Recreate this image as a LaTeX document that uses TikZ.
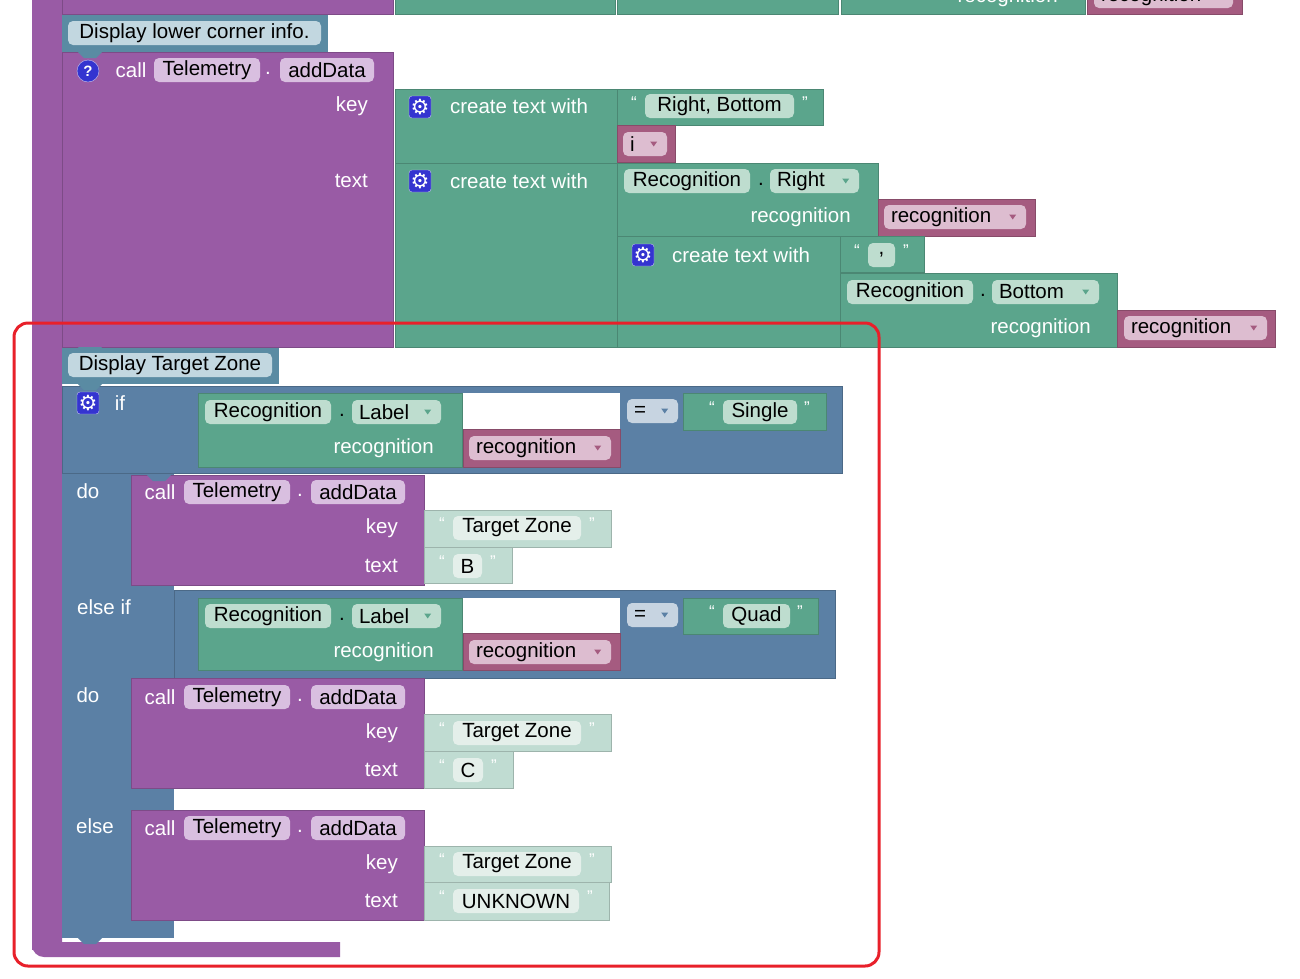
\documentclass[tikz,border=0pt]{standalone}
\usepackage{fontspec}
\setmainfont{Liberation Sans}
\newfontfamily\djvfont{DejaVu Sans}
\definecolor{pur}{HTML}{995BA5}
\definecolor{grn}{HTML}{5BA58C}
\definecolor{blu}{HTML}{5B80A5}
\definecolor{pnk}{HTML}{A55B80}
\definecolor{lgt}{HTML}{C0DCD2}
\definecolor{hdr}{HTML}{5A8BA3}
\definecolor{ppill}{HTML}{D9BFE0}
\definecolor{gpill}{HTML}{BEDDCF}
\definecolor{kpill}{HTML}{DDBDD0}
\definecolor{bpill}{HTML}{C7D4E1}
\definecolor{hpill}{HTML}{C2D7E0}
\definecolor{lpill}{HTML}{E4EFEA}
\definecolor{redb}{HTML}{E8202A}
\definecolor{icon}{HTML}{3434D0}
\tikzset{
  fnt/.style={font=\fontsize{20.5}{23}\selectfont},
  wl/.style={fnt,text=white,inner sep=0pt},
  bl/.style={fnt,text=black,inner sep=0pt},
  pillbox/.style={rounded corners=5pt,inner sep=0pt,minimum height=24pt},
  qt/.style={font=\fontsize{17}{17}\selectfont,text=white,inner sep=0pt},
}
\newcommand\blk[5]{\filldraw[fill=#1,draw=#1!82!black,line width=0.8pt] (#2,#3) rectangle (#4,#5);}
\newcommand\pill[6]{\node[pillbox,fill=#2,minimum width={#4-#3}] (#1) at ({(#3+#4)/2},#5) {};
  \node[bl] at (#1.center) {#6};}
\newcommand\dpill[7]{\node[pillbox,fill=#2,minimum width={#4-#3}] (#1) at ({(#3+#4)/2},#5) {};
  \node[bl,anchor=west] at ([xshift=7pt]#1.west) {#6};
  \fill[#7] ([xshift=-17pt,yshift=2.5pt]#1.east) -- ++(7,0) -- ++(-3.5,5) -- cycle;}
\newcommand\gear[3]{\node[fill=icon,draw=white!70!icon,rounded corners=3pt,minimum size=22pt,inner sep=0pt,text=white,font=\djvfont\fontsize{21}{21}\selectfont] (#1) at (#2,#3) {⚙};}
\begin{document}
\begin{tikzpicture}[x=1pt,y=-1pt]
\useasboundingbox (0,0) rectangle (1300,978);
\clip (0,0) rectangle (1300,978);
% ===== outer purple C block
\fill[pur] (32,-20) -- (62,-20) -- (62,942) -- (340,942) -- (340,957) -- (44,957) [rounded corners=12pt] -- (32,957) -- (32,-20) -- cycle;
\fill[pur] (32,-20) rectangle (62,950);
% ===== top strip (cut off blocks)
\blk{pur}{62}{-30}{393}{14}
\blk{grn}{395}{-30}{615}{14}
\blk{grn}{617}{-30}{838}{14}
\blk{grn}{841}{-30}{1085}{14}
\node[wl,anchor=east] (rtop) at (1058,-3) {recognition};
\blk{pnk}{1087}{-30}{1242}{14}
\dpill{rtopv}{kpill}{1094}{1233}{-4}{recognition}{pnk}
% ===== Display lower corner info.
\fill[hdr] (62,15) rectangle (328,52);
\fill[hdr] (78,15) -- (84,21) -- (96,21) -- (102,15) -- cycle;
\pill{h1}{hpill}{68}{321}{33}{Display lower corner info.}
% call block
\blk{pur}{62}{52}{393}{347}
\fill[hdr] (78,52) -- (84,58) -- (96,58) -- (102,52) -- cycle;
\node[circle,fill=icon,draw=white!70!icon,minimum size=22pt,inner sep=0pt,text=white,font=\bfseries\fontsize{15}{15}\selectfont] (q1) at (88,71) {?};
\node[wl] (call1) at (131,70) {call};
\pill{t1}{ppill}{154}{260}{70}{Telemetry}
\node[wl] (d1) at (268,73) {.};
\pill{a1}{ppill}{280}{374}{70}{addData}
\node[wl,anchor=east] (k1) at (368,106) {key};
\node[wl,anchor=east] (x1) at (368,181) {text};
% green create text with #1
\blk{grn}{395}{89}{617}{163}
\gear{g1}{420}{107}
\node[wl] (ct1) at (519,106) {create text with};
\blk{grn}{617}{89}{823}{125}
\node[qt] at (634,103) {“};
\pill{s1}{gpill}{645}{794}{106}{Right, Bottom}
\node[qt] at (805,103) {”};
\blk{pnk}{617}{125}{675}{162}
\dpill{v1}{kpill}{623}{667}{144}{i}{pnk}
% green create text with #2
\blk{grn}{395}{163}{617}{347}
\gear{g2}{420}{181}
\node[wl] (ct2) at (519,181) {create text with};
\blk{grn}{617}{163}{878}{236}
\pill{r1}{gpill}{624}{750}{181}{Recognition}
\node[bl] at (761,184) {.};
\dpill{r1b}{gpill}{770}{859}{181}{Right}{grn}
\node[wl,anchor=east] (rl1) at (851,217) {recognition};
\blk{pnk}{878}{199}{1035}{236}
\dpill{v2}{kpill}{884}{1026}{217}{recognition}{pnk}
\blk{grn}{617}{236}{840}{347}
\gear{g3}{643}{255}
\node[wl] (ct3) at (741,255) {create text with};
\blk{grn}{840}{236}{924}{272}
\node[qt] at (857,251) {“};
\pill{s2}{gpill}{868}{895}{255}{,}
\node[qt] at (906,251) {”};
\blk{grn}{840}{273}{1117}{347}
\pill{r2}{gpill}{847}{973}{292}{Recognition}
\node[bl] at (983,295) {.};
\dpill{r2b}{gpill}{992}{1099}{292}{Bottom}{grn}
\node[wl,anchor=east] (rl2) at (1091,328) {recognition};
\blk{pnk}{1117}{310}{1275}{347}
\dpill{v3}{kpill}{1124}{1267}{328}{recognition}{pnk}
% ===== Display Target Zone
\fill[hdr] (62,348) rectangle (279,384);
\fill[hdr] (78,347) -- (84,353) -- (96,353) -- (102,347) -- cycle;
\pill{h2}{hpill}{68}{272}{365}{Display Target Zone}
% if block
\fill[blu] (62,386) rectangle (174,938);
\fill[blu] (62,386) rectangle (842,473);
\draw[blu!82!black,line width=0.8pt] (62,386) rectangle (842,473);
\fill[blu] (62,590) rectangle (835,678);
\draw[blu!82!black,line width=0.8pt] (174,590) rectangle (835,678);
\fill[blu] (78,938) -- (84,944) -- (96,944) -- (102,938) -- cycle;
\fill[hdr] (78,384) -- (84,390) -- (96,390) -- (102,384) -- cycle;
\gear{g4}{88}{403}
\node[wl] (if1) at (120,403) {if};
\node[wl] (do1) at (88,491) {do};
\node[wl] (eif) at (104,607) {else if};
\node[wl] (do2) at (88,695) {do};
\node[wl] (els) at (95,826) {else};
% if condition 1
\fill[white] (462,393) rectangle (620,429);
\blk{grn}{198}{393}{462}{467}
\pill{r3}{gpill}{205}{331}{412}{Recognition}
\node[bl] at (342,415) {.};
\dpill{r3b}{gpill}{352}{441}{412}{Label}{grn}
\node[wl,anchor=east] (rl3) at (434,448) {recognition};
\blk{pnk}{463}{429}{620}{467}
\dpill{v4}{kpill}{469}{611}{448}{recognition}{pnk}
\dpill{eq1}{bpill}{627}{678}{411}{=}{blu}
\blk{grn}{683}{393}{826}{430}
\node[qt] at (712,408) {“};
\pill{s3}{gpill}{723}{797}{412}{Single}
\node[qt] at (807,408) {”};
% do call 1
\blk{pur}{131}{475}{424}{585}
\fill[blu] (147,475) -- (153,481) -- (165,481) -- (171,475) -- cycle;
\node[wl] (call2) at (160,492) {call};
\pill{t2}{ppill}{184}{290}{492}{Telemetry}
\node[wl] at (300,495) {.};
\pill{a2}{ppill}{311}{405}{492}{addData}
\node[wl,anchor=east] (k2) at (398,528) {key};
\node[wl,anchor=east] (x2) at (398,566) {text};
\blk{lgt}{424}{510}{611}{547}
\node[qt] at (442,524) {“};
\pill{s4}{lpill}{453}{581}{528}{Target Zone}
\node[qt] at (592,524) {”};
\blk{lgt}{424}{547}{512}{583}
\node[qt] at (442,562) {“};
\pill{s5}{lpill}{453}{482}{566}{B}
\node[qt] at (493,562) {”};
% if condition 2
\fill[white] (462,598) rectangle (620,633);
\blk{grn}{198}{598}{462}{670}
\pill{r4}{gpill}{205}{331}{616}{Recognition}
\node[bl] at (342,619) {.};
\dpill{r4b}{gpill}{352}{441}{616}{Label}{grn}
\node[wl,anchor=east] (rl4) at (434,652) {recognition};
\blk{pnk}{463}{633}{620}{670}
\dpill{v5}{kpill}{469}{611}{652}{recognition}{pnk}
\dpill{eq2}{bpill}{627}{678}{615}{=}{blu}
\blk{grn}{683}{598}{818}{634}
\node[qt] at (712,612) {“};
\pill{s6}{gpill}{723}{790}{616}{Quad}
\node[qt] at (800,612) {”};
% do call 2
\blk{pur}{131}{678}{424}{788}
\node[wl] (call3) at (160,697) {call};
\pill{t3}{ppill}{184}{290}{697}{Telemetry}
\node[wl] at (300,700) {.};
\pill{a3}{ppill}{311}{405}{697}{addData}
\node[wl,anchor=east] (k3) at (398,733) {key};
\node[wl,anchor=east] (x3) at (398,770) {text};
\blk{lgt}{424}{714}{611}{751}
\node[qt] at (442,729) {“};
\pill{s7}{lpill}{453}{581}{733}{Target Zone}
\node[qt] at (592,729) {”};
\blk{lgt}{424}{751}{513}{788}
\node[qt] at (442,766) {“};
\pill{s8}{lpill}{453}{483}{770}{C}
\node[qt] at (494,766) {”};
% else call
\blk{pur}{131}{810}{424}{920}
\node[wl] (call4) at (160,828) {call};
\pill{t4}{ppill}{184}{290}{828}{Telemetry}
\node[wl] at (300,831) {.};
\pill{a4}{ppill}{311}{405}{828}{addData}
\node[wl,anchor=east] (k4) at (398,864) {key};
\node[wl,anchor=east] (x4) at (398,901) {text};
\blk{lgt}{424}{846}{611}{882}
\node[qt] at (442,860) {“};
\pill{s9}{lpill}{453}{581}{864}{Target Zone}
\node[qt] at (592,860) {”};
\blk{lgt}{424}{882}{609}{920}
\node[qt] at (442,897) {“};
\pill{s10}{lpill}{453}{579}{901}{UNKNOWN}
\node[qt] at (590,897) {”};
% red highlight
\draw[redb,line width=3pt,rounded corners=14pt] (14,323) rectangle (879,966);
\end{tikzpicture}
\end{document}
